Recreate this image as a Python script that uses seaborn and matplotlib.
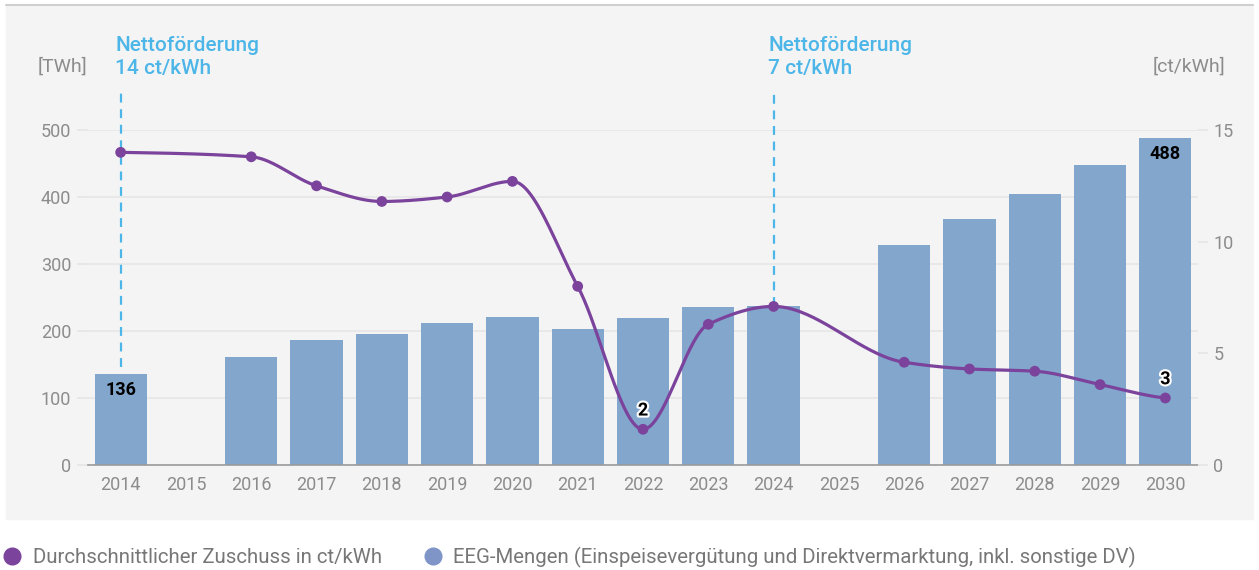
import numpy as np
import pandas as pd
import matplotlib
matplotlib.use("Agg")
import matplotlib.pyplot as plt
import matplotlib.patheffects as pe
from matplotlib.lines import Line2D
from matplotlib.patches import Rectangle
import seaborn as sns

# data
years = [str(y) for y in range(2014, 2031)]
mengen_twh = [136, np.nan, 161, 187, 196, 212, 221, 203, 219, 236, 237, np.nan,
              328, 367, 404, 448, 488]
zuschuss_ct = [14.0, np.nan, 13.8, 12.5, 11.8, 12.0, 12.7, 8.0, 1.6, 6.3, 7.1, np.nan,
               4.6, 4.3, 4.2, 3.6, 3.0]
bar_labels = {"2014": "136", "2030": "488"}
line_labels = {"2022": "2", "2030": "3"}
netto_notes = [("2014", "Nettoförderung\n14 ct/kWh"), ("2024", "Nettoförderung\n7 ct/kWh")]
legend_texts = ["Durchschnittlicher Zuschuss in ct/kWh",
                "EEG-Mengen (Einspeisevergütung und Direktvermarktung, inkl. sonstige DV)"]

BAR = "#82A6CC"
PURPLE = "#7B439C"
NOTE = "#4DB6E8"
GREY = "#8C8C8C"

sns.set_theme(style="white")
plt.rcParams["font.family"] = ["Roboto", "DejaVu Sans"]


def pchip(x, y, n=40):
    # monotone cubic curve through the points (for drawing only)
    x = np.asarray(x, float)
    y = np.asarray(y, float)
    h = np.diff(x)
    d = np.diff(y) / h
    m = np.zeros_like(y)
    for k in range(1, len(y) - 1):
        if d[k - 1] * d[k] > 0:
            w1 = 2 * h[k] + h[k - 1]
            w2 = h[k] + 2 * h[k - 1]
            m[k] = (w1 + w2) / (w1 / d[k - 1] + w2 / d[k])
    m[0] = d[0] * 0.5
    m[-1] = d[-1] * 0.5
    xs, ys = [], []
    for k in range(len(h)):
        t = np.linspace(0, 1, n)
        h00 = 2 * t**3 - 3 * t**2 + 1
        h10 = t**3 - 2 * t**2 + t
        h01 = -2 * t**3 + 3 * t**2
        h11 = t**3 - t**2
        xs.append(x[k] + t * h[k])
        ys.append(h00 * y[k] + h10 * h[k] * m[k] + h01 * y[k + 1] + h11 * h[k] * m[k + 1])
    return np.concatenate(xs), np.concatenate(ys)


df = pd.DataFrame({"Jahr": years, "TWh": mengen_twh, "ct": zuschuss_ct})
df["pos"] = np.arange(len(years))

fig = plt.figure(figsize=(12.59, 5.70), dpi=100)
W, H = 1259, 570
fig.patches.append(Rectangle((6 / W, 1 - 519 / H), 1247 / W, 513 / H,
                             transform=fig.transFigure, color="#F4F4F4", zorder=-10))
fig.lines.append(Line2D([6 / W, 1253 / W], [1 - 5 / H, 1 - 5 / H],
                        transform=fig.transFigure, color="#CFCFCF", lw=1.5))

ax = fig.add_axes([88 / W, 1 - 465 / H, 1110 / W, 335 / H])
ax.set_facecolor("none")
sns.barplot(data=df, x="Jahr", y="TWh", order=years, color=BAR, saturation=1,
            width=0.8, linewidth=0, edgecolor="none", ax=ax, zorder=2)
ax.set_ylim(0, 500)
ax.set_xlim(-0.5, len(years) - 0.5)
ax.set_yticks([0, 100, 200, 300, 400, 500])
ax.yaxis.grid(True, color="#E6E6E6", lw=1.2)
ax.set_axisbelow(True)
for s in ["top", "right", "left"]:
    ax.spines[s].set_visible(False)
ax.spines["bottom"].set_color("#9A9A9A")
ax.spines["bottom"].set_linewidth(1.2)
ax.tick_params(axis="y", colors=GREY, labelsize=13, length=8, color="#E6E6E6", pad=4)
ax.tick_params(axis="x", colors=GREY, labelsize=13, length=0, pad=8)
ax.set_xlabel("")
ax.set_ylabel("")

for yr, txt in bar_labels.items():
    i = years.index(yr)
    ax.text(i, mengen_twh[i] - 11, txt, ha="center", va="top", fontsize=13,
            fontweight="bold", color="black", zorder=6)

ax2 = ax.twinx()
ax2.set_ylim(0, 15)
ax2.set_yticks([0, 5, 10, 15])
for s in ax2.spines.values():
    s.set_visible(False)
ax2.tick_params(axis="y", colors=GREY, labelsize=13, length=7, color="#E6E6E6", pad=4)
ax2.grid(False)

pts = df.dropna(subset=["ct"])
cx, cy = pchip(pts["pos"], pts["ct"])
ax2.plot(cx, cy, color=PURPLE, lw=2.3, zorder=4, solid_capstyle="round")
sns.scatterplot(data=pts, x="pos", y="ct", color=PURPLE, s=60, edgecolor="none",
                ax=ax2, zorder=5, legend=False)
ax2.set_xlabel("")
ax2.set_ylabel("")
ax2.set_xlim(-0.5, len(years) - 0.5)

for yr, txt in line_labels.items():
    i = years.index(yr)
    ax2.annotate(txt, (i, zuschuss_ct[i]), xytext=(0, 7), textcoords="offset points",
                 ha="center", va="bottom", fontsize=13, fontweight="bold", color="black",
                 zorder=7, path_effects=[pe.withStroke(linewidth=3, foreground="white")])

# Nettoförderung markers
for yr, txt in netto_notes:
    i = years.index(yr)
    top_y = 560
    end_y = mengen_twh[i] + 10 if yr == "2014" else zuschuss_ct[i] / 15 * 500
    ax.plot([i, i], [end_y, top_y], color=NOTE, lw=1.6, ls=(0, (4, 3)),
            clip_on=False, zorder=3)
    ax.text(i - 0.08, 578, txt, ha="left", va="bottom", fontsize=15, fontweight="medium",
            color=NOTE, linespacing=1.25, clip_on=False)

fig.text(38 / W, 1 - 67 / H, "[TWh]", ha="left", va="center", fontsize=14, color=GREY)
fig.text(1225 / W, 1 - 67 / H, "[ct/kWh]", ha="right", va="center", fontsize=14, color=GREY)

handles = [Line2D([], [], marker="o", ls="", color=PURPLE, markersize=12),
           Line2D([], [], marker="o", ls="", color="#7F95C8", markersize=12)]
fig.legend(handles, legend_texts, loc="center left", bbox_to_anchor=(0.0, 1 - 557 / H),
           ncol=2, frameon=False, fontsize=14.7, labelcolor="#777777",
           borderaxespad=0, borderpad=0.1, handletextpad=0.5, columnspacing=2.0,
           handlelength=1.0)

fig.savefig("out.png", dpi=100)
